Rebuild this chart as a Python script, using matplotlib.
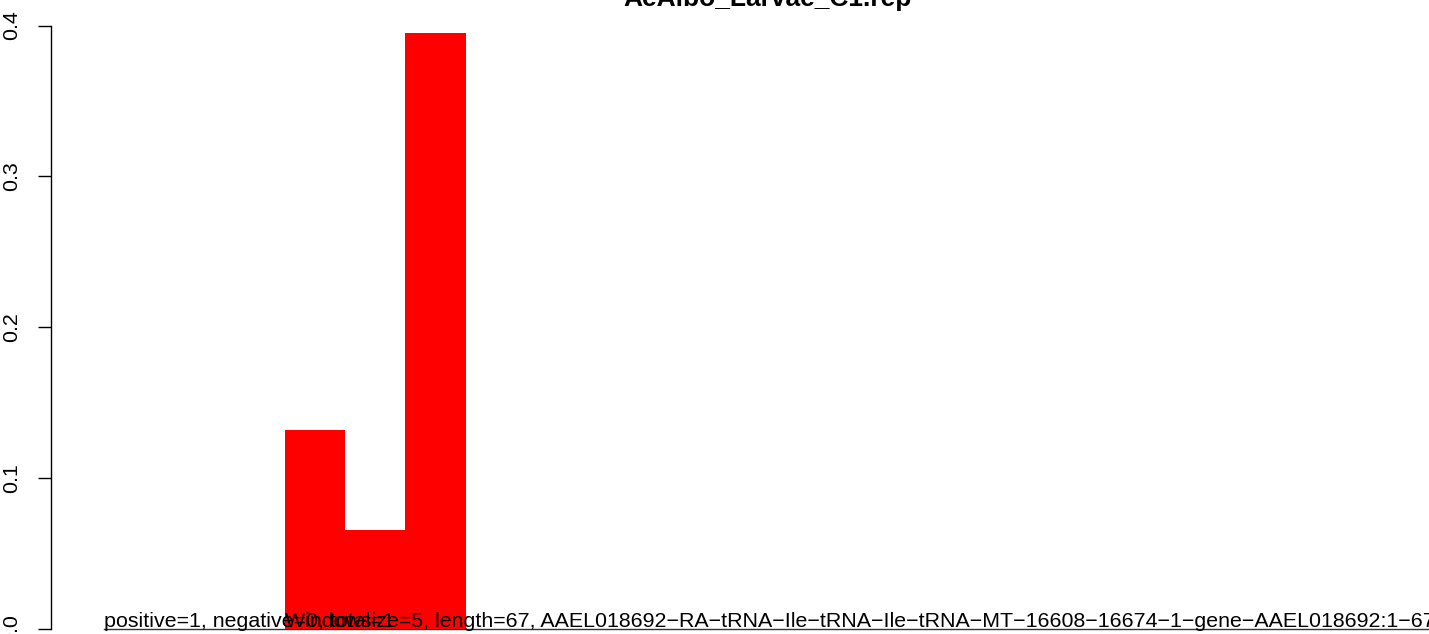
import matplotlib
matplotlib.use("Agg")
import matplotlib.pyplot as plt
import numpy as np

plt.rcParams['font.family'] = ['Liberation Sans', 'DejaVu Sans']

# Data
title = "AeAlbo_Larvae_C1.rep"
values = [0, 0, 0, 0.132, 0.0656, 0.395, 0, 0, 0, 0, 0,
          0, 0, 0, 0, 0, 0, 0, 0, 0, 0, 0]
yticks = [0.0, 0.1, 0.2, 0.3, 0.4]
ytick_labels = ["0.0", "0.1", "0.2", "0.3", "0.4"]
label_counts = "positive=1, negative=0, total=1"
label_info = ("Windowsize=5, length=67, AAEL018692\u2212RA\u2212tRNA\u2212Ile\u2212tRNA\u2212Ile\u2212tRNA\u2212MT"
              "\u221216608\u221216674\u22121\u2212gene\u2212AAEL018692:1\u221267")

W, H = 1429, 634
fig = plt.figure(figsize=(W / 100, H / 100), dpi=100)
ax_left, ax_right = 51, 1483
ax_top, ax_bottom = 25.5, 629
ax = fig.add_axes([ax_left / W, (H - ax_bottom) / H,
                   (ax_right - ax_left) / W, (ax_bottom - ax_top) / H])

n = len(values)
x = np.arange(n)
ax.bar(x, values, width=1.0, align='edge', color='#ff0000', edgecolor='none', zorder=2)

ext = 0.04 * n
ax.set_xlim(-ext, n + ext)
ax.set_ylim(0, 0.4)

ax.plot([0, n], [0, 0], color='#333333', lw=1.0, clip_on=False, zorder=1)

fs = 15.4
ax.text(0, 0.0013, label_counts, fontsize=fs, color='black', ha='left', va='baseline', zorder=3, clip_on=False)
ax.text(3, 0.0013, label_info, fontsize=fs, color='black', ha='left', va='baseline', zorder=3, clip_on=False)

for s in ['top', 'right', 'bottom']:
    ax.spines[s].set_visible(False)
ax.spines['left'].set_bounds(0, 0.4)
ax.spines['left'].set_linewidth(1.0)
ax.set_xticks([])
ax.set_yticks(yticks)
ax.set_yticklabels(ytick_labels, rotation=90, va='center', fontsize=fs)
ax.tick_params(axis='y', length=9.4, width=1.0, pad=12)
ax.patch.set_alpha(0)

fig.text(767.5 / W, (H - 6) / H, title, fontsize=19, fontweight='bold',
         ha='center', va='baseline')

fig.savefig("out.png", dpi=100)
